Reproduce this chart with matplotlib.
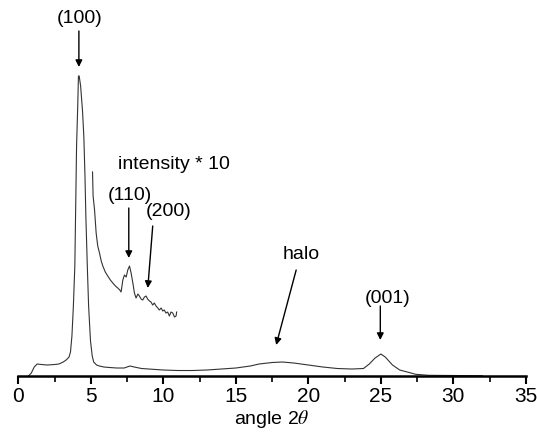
import numpy as np
import matplotlib
matplotlib.use('Agg')
import matplotlib.pyplot as plt
from matplotlib.ticker import MultipleLocator

plt.rcParams['font.family'] = ['Liberation Sans', 'DejaVu Sans']
plt.rcParams['mathtext.fontset'] = 'stix'

# main pattern (intensity in arbitrary units)
angle = [0.7, 0.9, 1.1, 1.3, 1.6, 2.0, 2.5, 2.8, 3.1, 3.3, 3.5, 3.6, 3.7, 3.8,
         3.9, 3.95, 4.02, 4.1, 4.15, 4.2, 4.3, 4.43, 4.52, 4.6, 4.66, 4.76,
         4.85, 4.98, 5.1, 5.2, 5.4, 5.6, 5.9, 6.3, 6.8, 7.3, 7.7, 8.0, 8.5,
         9.0, 10, 11, 12, 13, 14, 15, 16, 16.6, 17.5, 18.2, 19, 20, 21, 22,
         23, 23.8, 24.2, 24.6, 25.0, 25.3, 25.8, 26.3, 27, 27.4, 28.3, 30, 32]
intensity = [0, 3, 9, 12, 11.5, 11, 11.5, 12, 14, 16, 19, 24, 40, 70,
             110, 160, 230, 270, 300, 300, 290, 265, 240, 200, 160, 110,
             70, 35, 20, 14, 11, 10, 9, 8.5, 8, 8, 10, 9, 7.5,
             7, 6, 5.5, 5.5, 6, 7, 8, 10, 12, 13.5, 14, 13, 11, 9, 7.5,
             7, 7.5, 12, 18, 22, 19, 11, 6, 3.3, 1.7, 0.7, 0.5, 0.3]

# magnified part (intensity * 10)
angle_x10 = [5.12, 5.16, 5.26, 5.37, 5.48, 5.6, 5.72, 5.83, 6.0, 6.17, 6.35,
             6.52, 6.7, 6.86, 7.0, 7.09, 7.15, 7.21, 7.32, 7.44, 7.55, 7.67,
             7.78, 7.9, 8.01, 8.12, 8.25, 8.35, 8.47, 8.58, 8.7, 8.81, 8.92,
             9.04, 9.15, 9.27, 9.38, 9.5, 9.62, 9.73, 9.85, 9.96, 10.07,
             10.18, 10.3, 10.42, 10.53, 10.65, 10.77, 10.88, 10.92]
intensity_x10 = [204, 180, 166, 143, 130, 123, 115, 110, 104, 100, 96,
                 93, 90, 88, 86, 84, 90, 96, 101, 99, 106, 110,
                 103, 93, 83, 78, 82, 80, 77, 76, 79, 80, 77,
                 75, 74, 71, 73, 70, 68, 66, 68, 65, 66,
                 63, 64, 60, 64, 63, 59, 60, 64]

# peak labels: (text, text x, text y, arrow tail, arrow tip)
labels = [
    ('(100)', 4.25, 358, (4.18, 345), (4.18, 309)),
    ('(110)', 7.7, 181, (7.62, 168), (7.62, 118)),
    ('(200)', 10.4, 165, (9.27, 150), (8.93, 88)),
    ('halo', 19.5, 122, (19.16, 106), (17.78, 31)),
    ('(001)', 25.47, 78, (24.96, 70), (24.96, 36)),
]

fig = plt.figure(figsize=(5.37, 4.32), dpi=100)
ax = fig.add_axes([0.034, 0.1296, 0.9454, 0.8704])

ax.plot(angle, intensity, color='#333333', lw=0.8)
ax.plot(angle_x10, intensity_x10, color='#333333', lw=0.8)

for txt, tx, ty, tail, tip in labels:
    ax.text(tx, ty, txt, ha='center', va='center', fontsize=14)
    ax.annotate('', xy=tip, xytext=tail,
                arrowprops=dict(arrowstyle='-|>', color='black', lw=1,
                                mutation_scale=10, shrinkA=0, shrinkB=0))

ax.text(6.86, 212, 'intensity * 10', ha='left', va='center', fontsize=14)

ax.set_xlim(0, 35)
ax.set_ylim(0, 376)
for s in ['top', 'right', 'left']:
    ax.spines[s].set_visible(False)
ax.spines['bottom'].set_linewidth(1.8)
ax.set_yticks([])
ax.xaxis.set_major_locator(MultipleLocator(5))
ax.xaxis.set_minor_locator(MultipleLocator(2.5))
ax.tick_params(axis='x', which='major', length=6, width=1.5, labelsize=15, pad=2)
ax.tick_params(axis='x', which='minor', length=4, width=1.2)
ax.set_xlabel(r'angle 2$\theta$', fontsize=14, labelpad=1)

fig.savefig('out.png', dpi=100)
